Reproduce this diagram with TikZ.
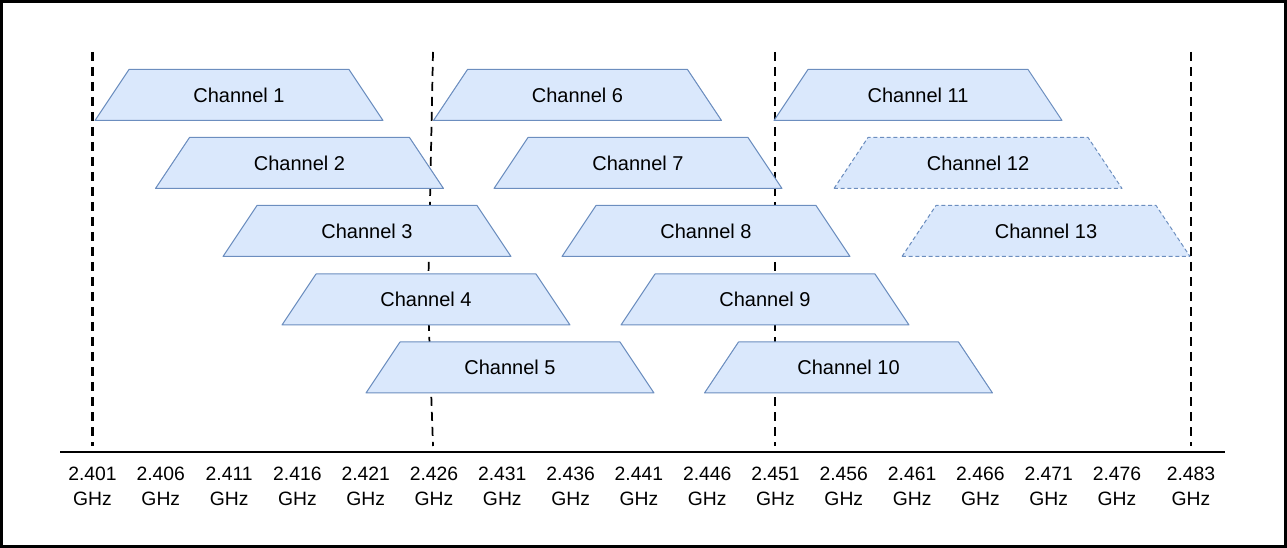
\documentclass[tikz,border=0pt]{standalone}
\usepackage{fontspec}
\setmainfont{Liberation Sans}
\definecolor{chfill}{HTML}{DAE8FC}
\definecolor{chline}{HTML}{6C8EBF}

\begin{document}
\begin{tikzpicture}[x=0.75pt,y=-0.75pt,
  chan/.style={fill=chfill, draw=chline, line width=0.75pt, line join=round},
  spare/.style={chan, dash pattern=on 3pt off 2pt},
  chtext/.style={inner sep=0pt, font=\fontsize{15}{18}\selectfont},
  guide/.style={line width=2pt, dash pattern=on 6.75pt off 4.5pt},
  freq/.style={align=center, inner sep=0pt,
    font=\fontsize{14.5}{18.75}\selectfont}]

\useasboundingbox (0,0) rectangle (1287,548);
\draw[line width=2.25pt] (1.5,1.5) rectangle (1285.5,546.5);

%--- frequency axis
\coordinate (axl) at (60,452);
\coordinate (axr) at (1225,452);
\draw[line width=0.9pt] (axl) -- (axr);
\foreach \f [count=\i from 0] in {401,406,411,416,421,426,431,436,441,446,451,456,461,466,471,476}
  \node[freq] (t\i) at ({92.5+68.3*\i},486) {2.\f\\GHz};
\node[freq] (t16) at (1191,486) {2.483\\GHz};

%--- dashed guides (non-overlapping channels 1, 6, 11 and band edge)
\foreach \g/\x in {a/92.5, c/775, d/1191} {
  \coordinate (\g top) at (\x,52);
  \coordinate (\g bot) at (\x,446);
  \draw[guide] (\g top) -- (\g bot);
}
\coordinate (btop) at (433,52);
\coordinate (bmid) at (428,300);
\coordinate (bbot) at (433,446);
\draw[guide, line width=1.3pt] (btop) -- (bmid) -- (bbot);

%--- channels
\foreach \n/\x/\y in {1/239/95, 2/299.5/163, 3/367/231, 4/426/299.5, 5/510/367.5,
    6/577.5/95, 7/638/163, 8/706/231, 9/765/299.5, 10/848.5/367.5, 11/918/95} {
  \filldraw[chan] (\x-144,\y+25.5) -- (\x-110,\y-25.5) -- (\x+110,\y-25.5)
    -- (\x+144,\y+25.5) -- cycle;
  \node[chtext] (ch\n) at (\x,\y) {Channel \n};
}

% 12 and 13 not allowed everywhere
\foreach \n/\x/\y in {12/978/163, 13/1046/231} {
  \filldraw[spare] (\x-144,\y+25.5) -- (\x-110,\y-25.5) -- (\x+110,\y-25.5)
    -- (\x+144,\y+25.5) -- cycle;
  \node[chtext] (ch\n) at (\x,\y) {Channel \n};
}

\end{tikzpicture}
\end{document}
